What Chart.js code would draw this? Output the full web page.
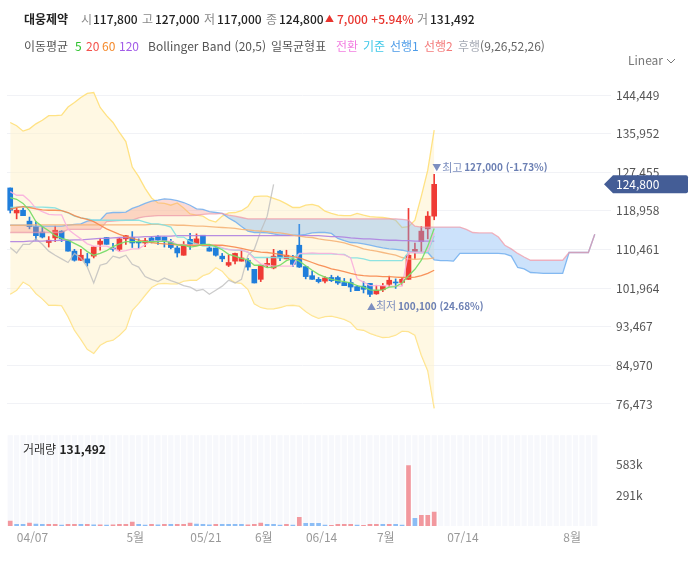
<!DOCTYPE html>
<html lang="ko">
<head>
<meta charset="utf-8">
<title>대웅제약</title>
<script src="https://cdn.jsdelivr.net/npm/chart.js@4"></script>
<style>
  html, body { margin: 0; padding: 0; background: #fff; }
  body { width: 700px; height: 572px; position: relative; overflow: hidden;
         font-family: "Noto Sans CJK KR", "Noto Sans", sans-serif; font-size: 12px; color: #333; }
  canvas { position: absolute; left: 0; }
  #priceChart { top: 0; }
  #volumeChart { top: 410px; }
  .txt { position: absolute; white-space: nowrap; line-height: 16px; }
  .grey { color: #888; }
  b { color: #222; font-weight: 500; }
</style>
</head>
<body>
<canvas id="priceChart" width="700" height="430"></canvas>
<canvas id="volumeChart" width="700" height="162"></canvas>

<div class="txt" style="left:24px;top:11px"><b style="font-weight:700">대웅제약</b></div>
<div class="txt grey" style="left:81px;top:11px">시</div><div class="txt" style="left:93px;top:11px"><b>117,800</b></div>
<div class="txt grey" style="left:142px;top:11px">고</div><div class="txt" style="left:155px;top:11px"><b>127,000</b></div>
<div class="txt grey" style="left:204px;top:11px">저</div><div class="txt" style="left:217px;top:11px"><b>117,000</b></div>
<div class="txt grey" style="left:266px;top:11px">종</div><div class="txt" style="left:279px;top:11px"><b>124,800</b></div>
<div class="txt" style="left:325px;top:11px;color:#e8342e;font-size:9px">▲</div>
<div class="txt" style="left:337px;top:11px;color:#e8342e;font-weight:500">7,000 +5.94%</div>
<div class="txt grey" style="left:417px;top:11px">거</div><div class="txt" style="left:430px;top:11px"><b>131,492</b></div>

<div class="txt" style="left:24px;top:38px;color:#555">이동평균</div>
<div class="txt" style="left:75px;top:38px;color:#2cc22c">5</div>
<div class="txt" style="left:86px;top:38px;color:#f4504a">20</div>
<div class="txt" style="left:102px;top:38px;color:#f58a2b">60</div>
<div class="txt" style="left:119px;top:38px;color:#a25ce8">120</div>
<div class="txt" style="left:148px;top:38px;color:#555">Bollinger Band (20,5)</div>
<div class="txt" style="left:271px;top:38px;color:#555">일목균형표</div>
<div class="txt" style="left:336px;top:38px;color:#f27ee0">전환</div>
<div class="txt" style="left:363px;top:38px;color:#3fc8e8">기준</div>
<div class="txt" style="left:390px;top:38px;color:#4c9be8">선행1</div>
<div class="txt" style="left:424px;top:38px;color:#f47a7a">선행2</div>
<div class="txt" style="left:458px;top:38px;color:#a5aab5">후행<span style="color:#666">(9,26,52,26)</span></div>

<div class="txt" style="left:628px;top:52px;color:#777">Linear</div>
<svg style="position:absolute;left:666px;top:58px" width="10" height="7"><path d="M1 1 L5 5 L9 1" fill="none" stroke="#777" stroke-width="1"/></svg>

<div class="txt" style="left:23px;top:441px;color:#333">거래량 <b style="font-weight:700">131,492</b></div>

<script>
// slots on the time axis, the cloud runs 25 sessions past the last candle
const categories = Array.from({ length: 92 }, (_, i) => i);
const dateTicks = { 3: '04/07', 19: '5월', 30: '05/21', 39: '6월', 48: '06/14', 58: '7월', 70: '07/14', 87: '8월' };
const priceTicks = [144449, 135952, 127455, 118958, 110461, 101964, 93467, 84970, 76473];
const volumeTicks = [291000, 583000];

const opens = [124000,118500,119100,116700,115500,114300,112000,113000,114500,112400,
  110100,108100,108400,109000,111600,113100,110800,110500,112800,113100,
  112100,111900,113000,113300,113200,112200,110800,109200,112700,111800,
  113600,110800,110800,109000,107000,107900,107900,108100,106100,103900,
  107000,106400,110100,108400,108200,111400,106700,104700,103900,103500,
  104300,104300,103200,103200,102300,102400,103000,100700,101600,102800,
  103200,103200,103900,110000,112200,115000,117800];
const closes = [119100,119100,117900,115500,113500,113200,112500,114700,112800,110100,
  108100,109200,107500,111000,112300,111600,110500,112800,113500,111900,
  111900,112400,112200,112500,112200,110900,109700,111600,111600,112800,
  111600,110100,109200,108400,107600,109600,108600,106600,103100,107000,
  107400,109000,108600,109200,107200,106600,104500,103900,103400,104200,
  103600,103100,102500,102200,101400,101700,100600,101500,102400,103700,
  103100,103900,109200,110500,114500,117800,124800];
const highs = [124000,119600,119600,117600,116600,115500,113300,115600,114600,112400,
  110500,110500,109600,111100,112900,113100,111800,113000,113600,114400,
  112800,112900,113300,113500,113200,112700,111200,112200,114000,113900,
  113600,111500,110800,109600,109200,109700,110300,108500,106100,107000,
  108600,110500,110300,110300,109200,116000,106700,105700,104300,104500,
  104800,104600,104100,104000,102600,103400,103000,102600,103000,104600,
  104000,104300,119500,111900,115500,118800,127000];
const lows = [118500,117200,117900,115000,112500,113000,111000,112200,112200,110100,
  107900,108000,106800,108600,110300,111600,110100,110100,111600,110900,
  110700,111100,111900,111600,111000,110600,108800,109200,110500,111800,
  111600,110100,109000,107800,106700,107300,107900,105900,103100,103400,
  106500,106200,108000,108400,106700,106500,104000,103900,103100,103100,
  103400,102800,102500,101200,101400,100900,100100,100600,101200,102300,
  101900,102600,103900,108500,109800,112800,117000];

const ma5 = [121900,121500,120600,119000,116600,115500,114600,113500,112900,112500,
  111800,111100,110000,109200,109600,110200,111100,111700,112200,112200,
  112200,112200,112200,112200,112300,112000,111500,111400,111000,111200,
  111600,111600,111100,110400,109400,109000,108500,108200,107000,107000,
  106500,106600,107000,108000,108500,107900,106900,105900,105000,104400,
  103900,103600,103400,103100,102500,102200,101600,101500,101600,102200,
  102300,103100,104700,106100,108100,111200,115100];
const ma20 = [119300,119700,119900,119700,119400,119200,119100,119100,119000,118600,
  117900,117400,117100,116600,115800,115000,114400,113800,113300,112900,
  112500,112200,112000,111800,111700,111600,111500,111400,111400,111400,
  111400,111400,111400,111400,111200,111000,110700,110400,110100,109900,
  109800,109600,109400,109100,108900,108600,108100,107600,107100,106700,
  106200,105900,105600,105200,104900,104700,104600,104600,104500,104500,
  104400,104300,104300,104400,104700,105200,105900];
const ma60 = [115800,115800,115800,115900,115900,115900,115900,115900,115900,115900,
  115900,115900,115900,115900,115900,115900,115900,115900,115900,115900,
  115900,115900,116000,116000,115900,115900,115800,115800,115700,115600,
  115600,115500,115400,115300,115200,115100,114900,114800,114600,114500,
  114400,114200,114100,113900,113600,113400,113200,113100,112800,112600,
  112400,112200,111900,111500,111100,110600,110300,110100,109800,109500,
  109200,108700,108400,108300,108400,108400,108600];
const ma120 = [112200,112200,112200,112300,112300,112300,112400,112400,112500,112500,
  112600,112600,112700,112800,112900,112900,113000,113100,113100,113200,
  113200,113300,113300,113400,113400,113400,113500,113500,113500,113500,
  113500,113500,113500,113500,113500,113500,113500,113500,113500,113500,
  113500,113500,113500,113500,113500,113500,113500,113500,113500,113400,
  113300,113300,113200,113000,112900,112800,112800,112700,112600,112500,
  112500,112400,112400,112300,112300,112300,112300];

const bollUpper = [138400,137700,136500,137000,138100,138900,139900,139900,140000,141800,
  142800,143900,144800,145000,141700,139900,138400,136200,134200,128600,
  126500,123900,121800,120700,120600,120200,120700,119600,118300,118000,
  117800,116900,116500,117800,118500,118600,119000,119900,122100,122200,
  122200,121700,121200,120500,119700,119700,120200,120400,120000,118900,
  118400,118000,117900,117900,118400,118000,117700,117600,117500,117300,
  116900,115300,115500,116900,122200,127900,136700];
const bollLower = [100600,101500,103300,102500,100800,99600,98200,98200,98100,95700,
  92700,90700,88500,87600,89400,90200,90500,91600,93000,97100,
  98600,100400,102100,102900,103000,102900,102900,103500,103700,103700,
  104700,105200,106500,105700,104100,103200,103000,101700,98500,97700,
  97400,97400,97700,98100,98200,98000,96800,95900,95300,95700,
  95800,95500,95100,94400,92900,92700,92000,91500,91100,91200,
  91600,92500,92400,91600,87200,83800,75500];

const conversion = [123200,122400,122400,121200,119500,118800,118200,118100,118100,114900,
  113800,112800,111700,111200,111200,111200,110700,110000,110200,110600,
  110600,111500,112300,112300,112300,112300,111600,111600,111400,111400,
  111400,111400,111400,110900,110400,110400,110400,109900,108400,107300,
  107000,106800,106800,106800,106800,109600,109600,109700,109600,109600,
  109600,109400,109300,108600,104000,103300,102500,102500,102500,102400,
  102400,102400,109800,109800,109800,110100,114100];
const base = [119700,119800,119900,119900,119800,119800,119700,119600,119000,118500,
  117800,117400,117200,116900,116900,116900,116900,116900,116900,116900,
  116900,116500,116100,116100,115800,115400,113200,113200,112200,111700,
  111200,111200,111200,110700,110500,110300,110300,109900,108700,108700,
  108700,108700,108700,108700,108700,109500,109500,109500,109500,109500,
  109500,109400,109400,108600,108600,108400,108000,108000,108000,108000,
  108000,108000,109800,109800,109800,109800,113500];
const span1 = [115800,115800,115800,115700,115600,115600,115600,115600,115600,115800,
  116000,116100,116700,116900,116900,118400,118600,118600,118700,119500,
  120000,120600,121100,121300,121600,121500,121200,120800,120200,119400,
  119300,118800,118600,118400,117400,116600,115500,114500,114200,114200,
  114100,113900,113600,113600,113600,113600,113800,114100,114200,114200,
  114000,112900,112400,112000,111900,111700,111400,111100,110800,110600,
  110500,110300,110000,109800,109800,109800,108200,108000,108000,107900,
  109600,109600,109600,109600,109600,109600,109600,109500,109000,106500,
  106200,105400,105300,105200,105200,105200,105200,109800,109800,109800,109800,113800];
const span2 = [114200,114200,114200,114200,114200,114200,114200,114200,114200,114900,
  114900,114900,114900,114900,114900,116600,116700,116800,116900,116900,
  117400,117700,117800,117900,117900,117900,117900,117900,117900,118000,
  118200,118300,118300,118400,118000,117800,117500,117200,117200,117200,
  117200,117200,117200,117200,117200,117200,117200,117200,117200,117200,
  117200,117200,117200,117200,117200,117200,117200,117200,117200,117200,
  117200,117100,116900,115600,115400,115400,115400,115400,115400,115400,
  115400,114900,114200,114100,114100,114100,113200,111400,110600,109600,
  108800,108100,108100,108100,108100,108100,108100,109800,109800,109800,109800,113800];
const lagging = [110900,109700,111600,111600,112800,111600,110100,109200,108400,107600,
  109600,108600,106600,103100,107000,107400,109000,108600,109200,107200,
  106600,104500,103900,103400,104200,103600,103100,102500,102200,101400,
  101700,100600,101500,102400,103700,103100,103900,109200,110500,114500,
  117800,124800];

const volumes = [48000,16000,16000,29000,18000,16000,16000,16000,8000,16000,
  16000,16000,16000,10000,10000,8000,10000,16000,16000,38000,
  16000,8000,16000,10000,16000,16000,16000,16000,29000,18000,
  16000,10000,16000,16000,16000,16000,16000,10000,16000,29000,
  16000,16000,8000,16000,8000,83000,26000,26000,26000,8000,
  6000,16000,16000,16000,8000,6000,16000,16000,16000,16000,
  16000,8000,576000,74000,102000,102000,131492];
// 1 = red volume bar, 0 = blue, read bar by bar
const volumeUp = [1,0,0,1,0,0,1,1,0,1, 1,0,1,0,1,0,1,1,1,1,
  0,0,1,0,1,0,1,1,1,0, 0,0,1,0,0,0,0,1,1,1,
  0,0,0,1,0,1,0,0,0,0, 1,1,1,1,0,1,1,1,0,1,
  0,0,1,0,1,1,1];

const RED = '#ef3b35';
const BLUE = '#1f7edb';
const candleColors = closes.map((c, i) => (c >= opens[i] ? RED : BLUE));
const volumeColors = volumeUp.map(u => (u ? '#f2989e' : '#8cbdf5'));

function line(data, color, order, extra) {
  return Object.assign({
    type: 'line', data: data, borderColor: color, borderWidth: 1.3,
    pointRadius: 0, tension: 0, fill: false, order: order
  }, extra || {});
}

// last price flag and the high / low notes
const priceOverlay = {
  id: 'priceOverlay',
  afterDraw(chart) {
    const ctx = chart.ctx;
    const x = chart.scales.x;
    const y = chart.scales.y;
    const font = '"Noto Sans CJK KR", "Noto Sans", sans-serif';
    const lastY = y.getPixelForValue(closes[closes.length - 1]);
    ctx.save();
    ctx.fillStyle = '#445d96';
    ctx.beginPath();
    ctx.moveTo(604, lastY);
    ctx.lineTo(613, lastY - 9);
    ctx.lineTo(686, lastY - 9);
    ctx.quadraticCurveTo(688, lastY - 9, 688, lastY - 7);
    ctx.lineTo(688, lastY + 7);
    ctx.quadraticCurveTo(688, lastY + 9, 686, lastY + 9);
    ctx.lineTo(613, lastY + 9);
    ctx.closePath();
    ctx.fill();
    ctx.fillStyle = '#fff';
    ctx.font = '12px ' + font;
    ctx.textBaseline = 'middle';
    ctx.textAlign = 'left';
    ctx.fillText('124,800', 616, lastY);

    const hiX = x.getPixelForValue(66) - 2;
    const hiY = y.getPixelForValue(Math.max(...highs)) - 7;
    ctx.fillStyle = '#7d8fbf';
    ctx.font = '9px ' + font;
    ctx.fillText('▼', hiX, hiY);
    ctx.font = '11px ' + font;
    ctx.fillText('최고', hiX + 10, hiY);
    ctx.fillStyle = '#6b7fb3';
    ctx.font = '600 10px ' + font;
    ctx.fillText('127,000 (-1.73%)', hiX + 32, hiY);

    const loX = x.getPixelForValue(56) - 3;
    const loY = y.getPixelForValue(Math.min(...lows)) + 9.5;
    ctx.fillStyle = '#7d8fbf';
    ctx.font = '9px ' + font;
    ctx.fillText('▲', loX, loY);
    ctx.font = '11px ' + font;
    ctx.fillText('최저', loX + 9, loY);
    ctx.fillStyle = '#6b7fb3';
    ctx.font = '600 10px ' + font;
    ctx.fillText('100,100 (24.68%)', loX + 31, loY);
    ctx.restore();
  }
};

const priceConfig = {
  type: 'bar',
  data: {
    labels: categories,
    datasets: [
      line(bollUpper, 'rgba(255,224,125,0.95)', 20, { fill: '+1', backgroundColor: 'rgba(255,241,200,0.5)' }),
      line(bollLower, 'rgba(255,224,125,0.95)', 20),
      { type: 'bar', data: highs.map((h, i) => [lows[i], h]), backgroundColor: candleColors, barThickness: 1, grouped: false, order: 12 },
      { type: 'bar', data: opens.map((o, i) => [o, closes[i]]), backgroundColor: candleColors, barThickness: 5, grouped: false, minBarLength: 1, order: 11 },
      line(span1, 'rgba(120,178,240,0.9)', 9, {
        fill: { target: '+1', above: 'rgba(245,140,125,0.32)', below: 'rgba(120,180,245,0.38)' }
      }),
      line(span2, 'rgba(240,150,165,0.7)', 8),
      line(lagging, 'rgba(190,190,190,0.8)', 7),
      line(ma120, 'rgba(175,130,225,0.9)', 6),
      line(ma60, 'rgba(245,180,120,0.9)', 5),
      line(base, 'rgba(130,225,225,0.9)', 4),
      line(conversion, 'rgba(250,175,222,0.9)', 3),
      line(ma20, 'rgba(247,135,75,0.9)', 2),
      line(ma5, 'rgba(120,220,105,0.95)', 1)
    ]
  },
  plugins: [priceOverlay],
  options: {
    responsive: false,
    animation: false,
    layout: { padding: { left: 7, top: 88, bottom: 18, right: 0 } },
    plugins: { legend: { display: false }, tooltip: { enabled: false } },
    scales: {
      x: { display: false, offset: true, grid: { display: false } },
      y: {
        position: 'right',
        min: 74713,
        max: 145989,
        afterBuildTicks: s => { s.ticks = priceTicks.map(v => ({ value: v })); },
        afterFit: s => { s.width = 102; },
        border: { display: false },
        grid: { color: '#f1f2f6', tickLength: 13, tickColor: '#f1f2f6' },
        ticks: {
          padding: 5,
          color: '#555',
          font: { size: 12, family: '"Noto Sans CJK KR", "Noto Sans", sans-serif' },
          callback: v => v.toLocaleString('en-US')
        }
      }
    }
  }
};
new Chart(document.getElementById('priceChart').getContext('2d'), priceConfig);

// pale column behind every slot of the volume panel
const volumeStripes = {
  id: 'volumeStripes',
  beforeDatasetsDraw(chart) {
    const ctx = chart.ctx;
    const area = chart.chartArea;
    const x = chart.scales.x;
    ctx.save();
    ctx.fillStyle = '#f7f8fc';
    categories.forEach(c => {
      ctx.fillRect(x.getPixelForValue(c) - 2.6, area.top, 5.2, area.bottom - area.top);
    });
    ctx.restore();
  }
};

const volumeConfig = {
  type: 'bar',
  data: {
    labels: categories,
    datasets: [{ data: volumes, backgroundColor: volumeColors, barThickness: 4 }]
  },
  plugins: [volumeStripes],
  options: {
    responsive: false,
    animation: false,
    layout: { padding: { left: 7, top: 6, bottom: 0, right: 0 } },
    plugins: { legend: { display: false }, tooltip: { enabled: false } },
    scales: {
      x: {
        offset: true,
        afterFit: s => { s.height = 46; },
        border: { display: false },
        grid: { display: false, drawTicks: false },
        ticks: {
          autoSkip: false,
          maxRotation: 0,
          padding: 4,
          labelOffset: 3,
          color: '#999',
          font: { size: 12, family: '"Noto Sans CJK KR", "Noto Sans", sans-serif' },
          callback: (v, i) => dateTicks[i] || ''
        }
      },
      y: {
        position: 'right',
        min: 0,
        max: 865000,
        afterBuildTicks: s => { s.ticks = volumeTicks.map(v => ({ value: v })); },
        afterFit: s => { s.width = 102; },
        border: { display: false },
        grid: { display: false, drawTicks: false },
        ticks: {
          padding: 18,
          color: '#555',
          font: { size: 12, family: '"Noto Sans CJK KR", "Noto Sans", sans-serif' },
          callback: v => Math.round(v / 1000) + 'k'
        }
      }
    }
  }
};
new Chart(document.getElementById('volumeChart').getContext('2d'), volumeConfig);
</script>
</body>
</html>
